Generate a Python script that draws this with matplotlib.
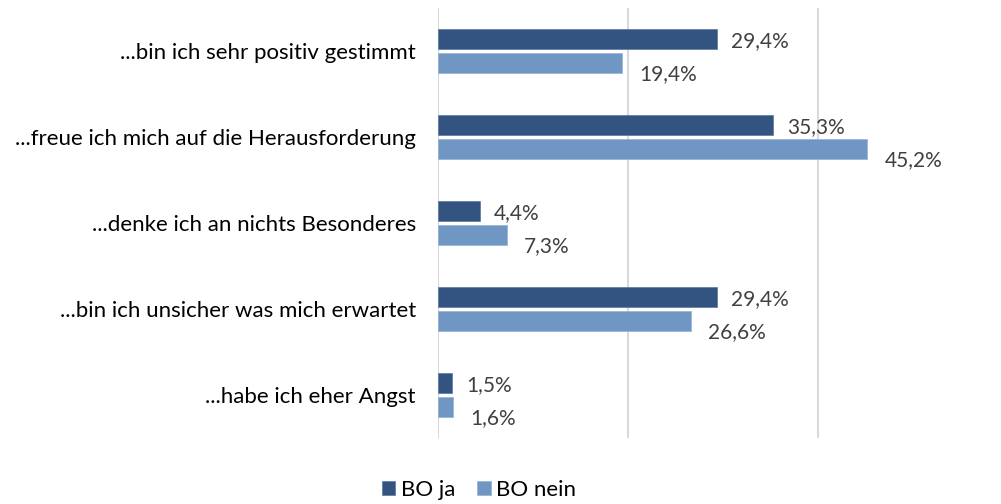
import matplotlib.pyplot as plt
import numpy as np

categories = ["...bin ich sehr positiv gestimmt",
              "...freue ich mich auf die Herausforderung",
              "...denke ich an nichts Besonderes",
              "...bin ich unsicher was mich erwartet",
              "...habe ich eher Angst"]
bo_ja = [29.4, 35.3, 4.4, 29.4, 1.5]
bo_nein = [19.4, 45.2, 7.3, 26.6, 1.6]
series_names = ["BO ja", "BO nein"]
colors = ["#335480", "#7096c3"]

plt.rcParams['font.family'] = ['Lato', 'DejaVu Sans']

fig = plt.figure(figsize=(10.01, 5.04), dpi=100)
ax = fig.add_axes([438/1001, 1-438/504, 456/1001, 430/504])

y = np.arange(len(categories))
h = 0.23
off = 0.14
ax.barh(y - off, bo_ja, height=h, color=colors[0], label=series_names[0],
        edgecolor='#5a78a0', linewidth=0.5, zorder=3)
ax.barh(y + off, bo_nein, height=h, color=colors[1], label=series_names[1],
        edgecolor='#93b1d5', linewidth=0.5, zorder=3)

def fmt(v):
    return f"{v:.1f}%".replace('.', ',')

for yi, v in zip(y, bo_ja):
    ax.annotate(fmt(v), (v, yi - off), xytext=(14, -2), textcoords='offset pixels',
                ha='left', va='center', fontsize=15, color='#404040')
for yi, v in zip(y, bo_nein):
    ax.annotate(fmt(v), (v, yi + off), xytext=(17, -11), textcoords='offset pixels',
                ha='left', va='center', fontsize=15, color='#404040')

ax.set_xlim(0, 48)
ax.set_ylim(len(categories) - 0.5, -0.5)
ax.set_xticks([0, 20, 40])
ax.set_xticklabels([])
ax.tick_params(axis='x', length=0)
ax.tick_params(axis='y', length=0, pad=16)
ax.set_yticks(y)
ax.set_yticklabels(categories, fontsize=16, color='#000000')
ax.grid(axis='x', color='#d9d9d9', linewidth=1.5, zorder=0)
for s in ax.spines.values():
    s.set_visible(False)

handles, labels = ax.get_legend_handles_labels()
fig.legend(handles, labels, loc='center', bbox_to_anchor=(479/1001, 1-490/504), ncol=2,
           frameon=False, fontsize=16, handlelength=0.6, handleheight=0.6,
           handletextpad=0.25, columnspacing=1.0)

fig.savefig('out.png', dpi=100)
